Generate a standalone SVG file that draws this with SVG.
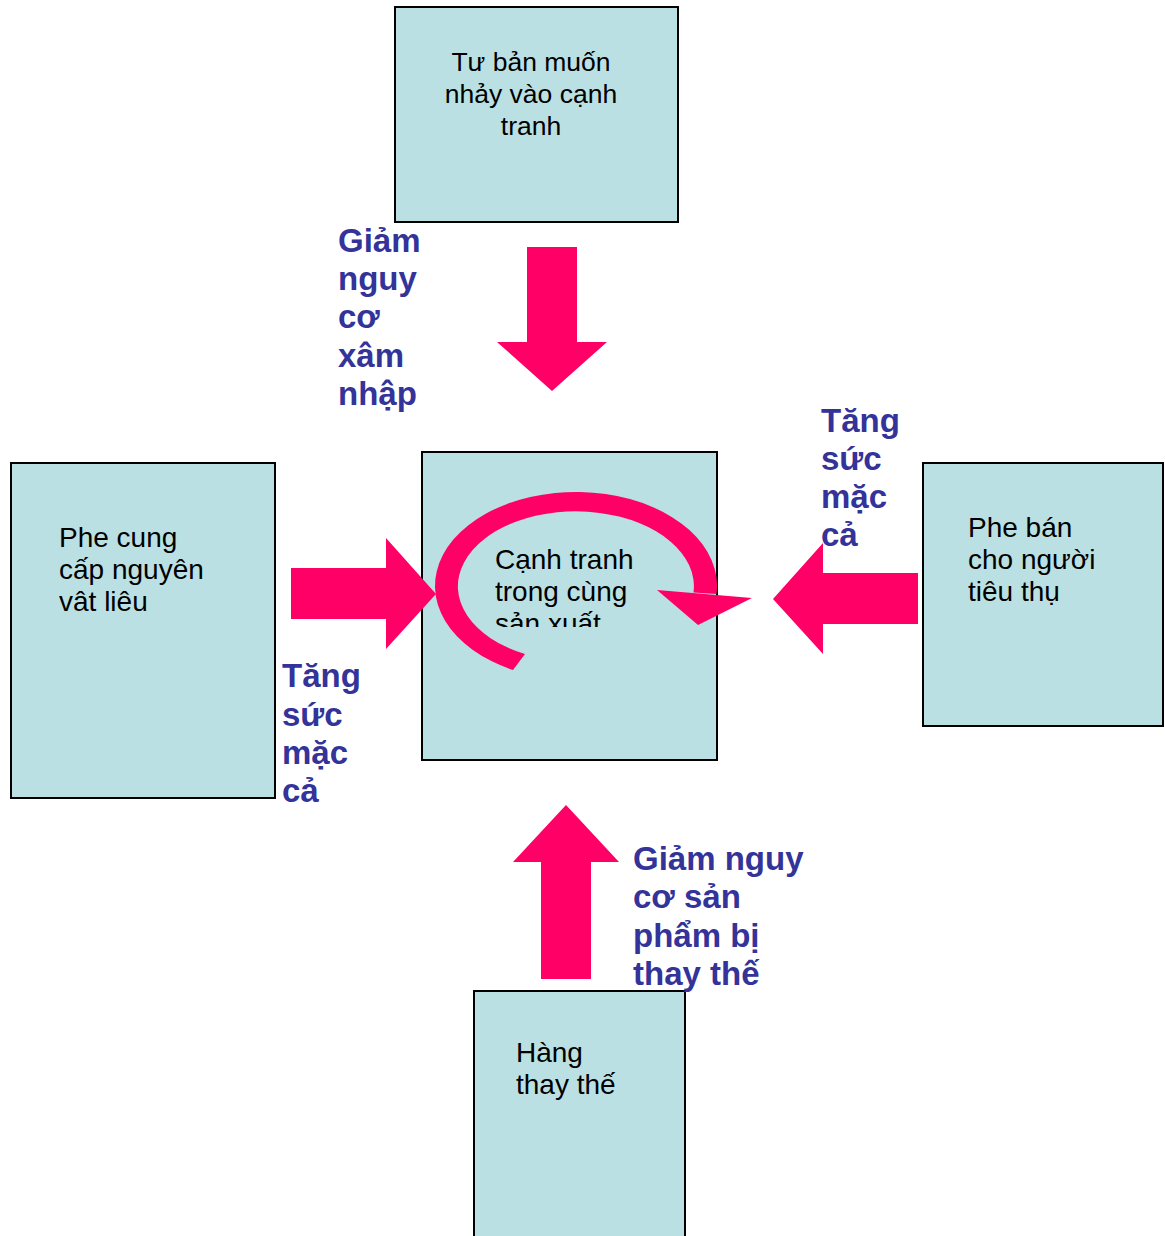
<svg xmlns="http://www.w3.org/2000/svg" width="1165" height="1236" viewBox="0 0 1165 1236">
<style>
.box{fill:#BBE0E3;stroke:#000;stroke-width:2}
.t{font-family:"Liberation Sans",Arial,sans-serif;font-size:28px;fill:#000}
.t.sm{font-size:26.5px}
.lbl{font-family:"Liberation Sans",Arial,sans-serif;font-size:33px;font-weight:bold;fill:#333399}
.arr{fill:#FF0066}
</style>
<defs>
<clipPath id="clipC"><rect x="422" y="451" width="295" height="176"/></clipPath>
</defs>
<rect width="1165" height="1236" fill="#fff"/>
<g id="node-top">
<rect class="box" x="395" y="7" width="283" height="215"/>
<text class="t sm" text-anchor="middle"><tspan x="531" y="71">Tư bản muốn</tspan><tspan x="531" y="103">nhảy vào cạnh</tspan><tspan x="531" y="135">tranh</tspan></text>
</g>
<g id="node-left">
<rect class="box" x="11" y="463" width="264" height="335"/>
<text class="t"><tspan x="59" y="547">Phe cung</tspan><tspan x="59" y="579">cấp nguyên</tspan><tspan x="59" y="611">vât liêu</tspan></text>
</g>
<g id="node-right">
<rect class="box" x="923" y="463" width="240" height="263"/>
<text class="t"><tspan x="968" y="537">Phe bán</tspan><tspan x="968" y="569">cho người</tspan><tspan x="968" y="601">tiêu thụ</tspan></text>
</g>
<g id="node-bottom">
<rect class="box" x="474" y="991" width="211" height="260"/>
<text class="t"><tspan x="516" y="1062">Hàng</tspan><tspan x="516" y="1094">thay thế</tspan></text>
</g>
<g id="node-center">
<rect class="box" x="422" y="452" width="295" height="308"/>
<text class="t" clip-path="url(#clipC)"><tspan x="495" y="569">Cạnh tranh</tspan><tspan x="495" y="601">trong cùng</tspan><tspan x="495" y="633">sản xuất</tspan></text>
<path class="arr" d="M513 670 A141 94 0 1 1 716.5 594 L693.5 592.5 A118 75 0 1 0 525 654 Z"/>
<polygon class="arr" points="657,590 752,598 698,625"/>
</g>
<g id="connectors">
<polygon class="arr" points="527,247 577,247 577,342 607,342 552,391 497,342 527,342"/>
<polygon class="arr" points="291,568 386,568 386,538 436,594 386,649 386,619 291,619"/>
<polygon class="arr" points="918,573 823,573 823,543 773,599 823,654 823,624 918,624"/>
<polygon class="arr" points="541,979 541,862 513,862 566,805 619,862 591,862 591,979"/>
</g>
<g id="labels">
<text class="lbl"><tspan x="338" y="252">Giảm</tspan><tspan x="338" y="290">nguy</tspan><tspan x="338" y="328">cơ</tspan><tspan x="338" y="367">xâm</tspan><tspan x="338" y="405">nhập</tspan></text>
<text class="lbl"><tspan x="821" y="432">Tăng</tspan><tspan x="821" y="470">sức</tspan><tspan x="821" y="508">mặc</tspan><tspan x="821" y="546">cả</tspan></text>
<text class="lbl"><tspan x="282" y="687">Tăng</tspan><tspan x="282" y="726">sức</tspan><tspan x="282" y="764">mặc</tspan><tspan x="282" y="802">cả</tspan></text>
<text class="lbl"><tspan x="633" y="870">Giảm nguy</tspan><tspan x="633" y="908">cơ sản</tspan><tspan x="633" y="947">phẩm bị</tspan><tspan x="633" y="985">thay thế</tspan></text>
</g>
</svg>
